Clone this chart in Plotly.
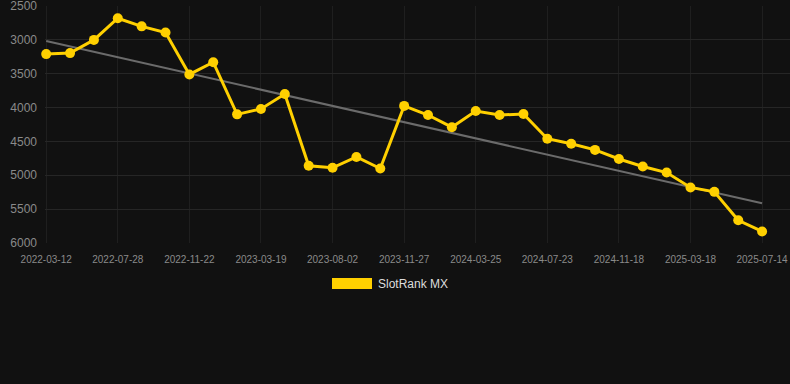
import numpy as np
import plotly.graph_objects as go

dates = [
    "2022-03-12", "2022-04-27", "2022-06-12", "2022-07-28", "2022-09-05", "2022-10-14",
    "2022-11-22", "2023-01-01", "2023-02-09", "2023-03-19", "2023-05-04", "2023-06-18",
    "2023-08-02", "2023-09-10", "2023-10-19", "2023-11-27", "2024-01-06", "2024-02-15",
    "2024-03-25", "2024-05-04", "2024-06-13", "2024-07-23", "2024-09-01", "2024-10-10",
    "2024-11-18", "2024-12-28", "2025-02-06", "2025-03-18", "2025-04-26", "2025-06-05",
    "2025-07-14",
]
ranks = [
    3210, 3195, 3000, 2680, 2800, 2890, 3510, 3330, 4100, 4020, 3800, 4860,
    4890, 4730, 4900, 3975, 4110, 4290, 4050, 4110, 4095, 4460, 4535, 4625,
    4760, 4870, 4960, 5180, 5245, 5665, 5830,
]
y_ticks = [2500, 3000, 3500, 4000, 4500, 5000, 5500, 6000]
series_name = "SlotRank MX"

idx = np.arange(len(dates))
slope, intercept = np.polyfit(idx, ranks, 1)
trend = slope * idx + intercept

fig = go.Figure()
fig.add_trace(go.Scatter(
    x=dates, y=trend, mode="lines",
    line=dict(color="#6b6b6b", width=2),
    showlegend=False, hoverinfo="skip",
))
fig.add_trace(go.Scatter(
    x=dates, y=ranks, mode="lines+markers", name=series_name,
    line=dict(color="#FFD000", width=3),
    marker=dict(color="#FFD000", size=10),
    showlegend=False, cliponaxis=False,
))

tick_vals = dates[::3]
fig.update_xaxes(
    type="category", tickmode="array", tickvals=tick_vals, ticktext=tick_vals,
    range=[-0.05, 31.17], showgrid=True, gridcolor="#1f1f1f", gridwidth=1,
    zeroline=False, showline=False, ticks="", ticklabelstandoff=9,
    ticklabeloverflow="allow",
    tickfont=dict(family="Liberation Sans, Arial", size=10, color="#8a8a8a"),
)
fig.update_yaxes(
    autorange=False, range=[6001, 2499], tickmode="array", tickvals=y_ticks,
    showgrid=True, gridcolor="#262626", gridwidth=1, zeroline=False, showline=False,
    ticks="", ticklabelstandoff=7, ticklabeloverflow="allow",
    tickfont=dict(family="Liberation Sans, Arial", size=12, color="#8a8a8a"),
)

fig.add_shape(type="rect", xref="paper", yref="paper",
              x0=(332 - 45) / 745, x1=(372 - 45) / 745,
              y0=(243 - 289) / 237, y1=(243 - 278) / 237,
              fillcolor="#FFD000", line=dict(width=0))
fig.add_annotation(text=series_name, xref="paper", yref="paper",
                   x=(376 - 45) / 745, y=(243 - 284) / 237,
                   xanchor="left", yanchor="middle", showarrow=False,
                   font=dict(family="Liberation Sans, Arial", size=12, color="#dddddd"))

fig.update_layout(
    width=790, height=384,
    margin=dict(l=45, r=0, t=6, b=141),
    paper_bgcolor="#111111", plot_bgcolor="#111111",
    showlegend=False,
)
fig.write_html(
    "out.html",
    config={"displayModeBar": False},
    post_script="document.body.style.margin='0';document.body.style.background='#111111';",
)
